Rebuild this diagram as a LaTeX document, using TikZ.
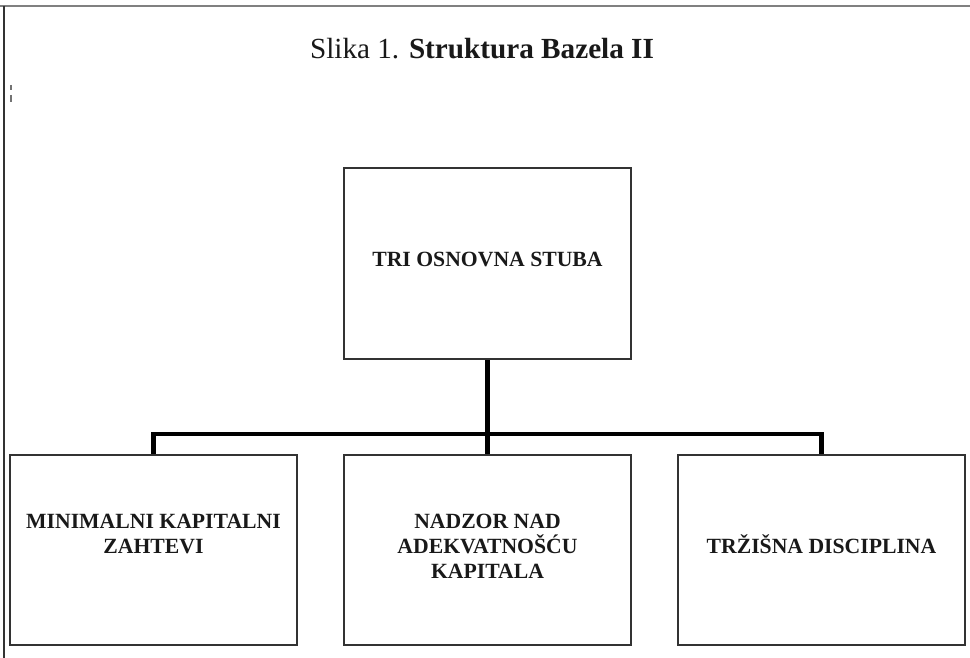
\documentclass[tikz,border=0pt]{standalone}
\usepackage{fontspec}
\setmainfont{Liberation Serif}

\begin{document}
\begin{tikzpicture}[x=1pt, y=-1pt, line join=miter,
  stub/.style={draw=black!80, line width=2pt, minimum width=287pt, minimum height=190pt, inner sep=0pt},
  natpis/.style={font=\fontsize{21.7}{25}\selectfont\bfseries, align=center, anchor=base, text=black!90},
  veza/.style={line width=4.2pt, black}]

\useasboundingbox (0,0) rectangle (970,658);

% okvir
\draw[black!50, line width=2pt] (0,6)--(970,6);
\draw[black!80, line width=1.5pt] (4,6)--(4,658);
\draw[black!55, line width=1.3pt] (11,85)--(11,90) (11,95)--(11,102);

\node[font=\fontsize{29.2}{30}\selectfont, anchor=base, text=black!90] (naslov) at (482,59) {Slika 1. \textbf{Struktura Bazela II}};

\node[stub, minimum height=191pt] (osnova) at (487.5,263.5) {};
\node[stub] (kapital) at (153.5,549.5) {};
\node[stub] (nadzor) at (487.5,549.5) {};
\node[stub] (trziste) at (821.5,549.5) {};

\node[natpis] (osnovatxt) at (487.5,266) {TRI OSNOVNA STUBA};
\node[natpis] (kapitaltxt) at (153.5,553) {MINIMALNI KAPITALNI\\ZAHTEVI};
\node[natpis] (nadzortxt) at (487.5,578) {NADZOR NAD\\ADEKVATNOŠĆU\\KAPITALA};
\node[natpis] (trzistetxt) at (821.5,553) {TRŽIŠNA DISCIPLINA};

\coordinate (sabirnica) at (487.5,434);
\draw[veza] (osnova.south)--(nadzor.north);
\draw[veza] (kapital.north)--(kapital.north |- sabirnica)--(trziste.north |- sabirnica)--(trziste.north);

\end{tikzpicture}
\end{document}
